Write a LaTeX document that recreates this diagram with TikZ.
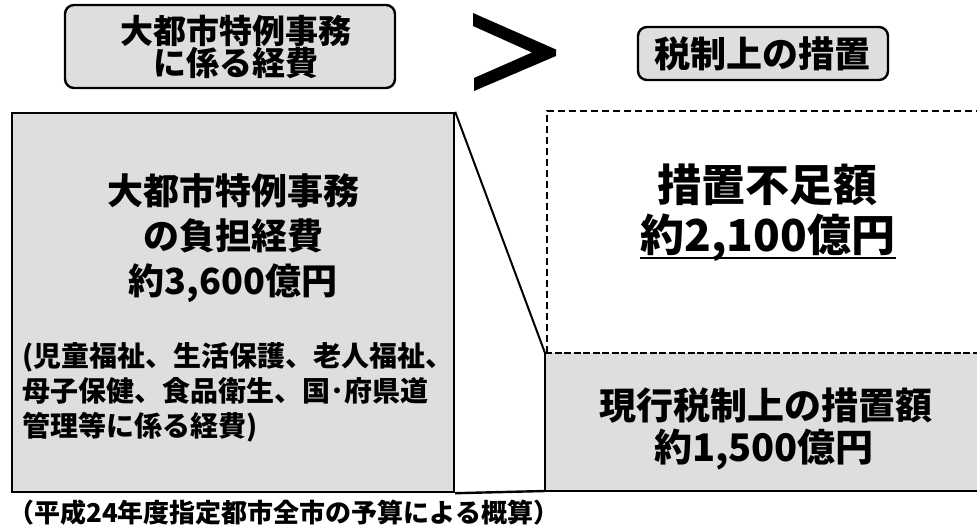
\documentclass[tikz,border=0pt]{standalone}
\usepackage{fontspec}
\setmainfont{Noto Sans CJK JP}
\definecolor{stipple}{RGB}{222,222,222}
\tikzset{
  roundbox/.style={draw=black, line width=2.4pt, fill=stipple, rounded corners=9pt, align=center, inner sep=0pt},
  plainbox/.style={draw=black, line width=2.4pt, fill=stipple, inner sep=0pt},
  txt/.style={font=\bfseries, align=center, inner sep=0pt, text=black},
  dashedge/.style={line width=2.2pt, dash pattern=on 7pt off 4pt},
}
\newcommand{\fs}[2]{\fontsize{#1}{#2}\selectfont}
\begin{document}
\begin{tikzpicture}[x=1pt, y=-1pt]
\path[use as bounding box] (0,0) rectangle (977,532);
\clip (0,0) rectangle (977,532);
\fill[white] (0,0) rectangle (977,532);

% top boxes
\node[roundbox, minimum width=330pt, minimum height=83pt] (cost) at (230,46.5) {};
\node[txt, font=\bfseries\fs{33}{30}] (costt) at (236,47) {大都市特例事務\\に係る経費};

\fill (473,13) -- (556,49.5) -- (556,56) -- (474,91) -- (474,78) -- (532,52.5) -- (473,26) -- cycle;

\node[roundbox, minimum width=250pt, minimum height=53pt] (tax) at (763,53.5) {};
\node[txt, font=\bfseries\fs{36}{36}] (taxt) at (762,54) {税制上の措置};

% left big box
\node[plainbox, minimum width=442pt, minimum height=379pt] (big) at (233,302.5) {};
\node[txt, font=\bfseries\fs{36}{45}] (bigt) at (233,238) {大都市特例事務\\の負担経費\\約3,600億円};
\node[txt, font=\bfseries\fs{28}{35}, align=left, anchor=west] (bigd) at (22,392) {(児童福祉、生活保護、老人福祉、\\母子保健、食品衛生、国･府県道\\管理等に係る経費)};

% right boxes
\coordinate (dtl) at (547,111);
\coordinate (dtr) at (990,111);
\coordinate (gtl) at (545,353);
\coordinate (gtr) at (990,353);
\coordinate (gbr) at (990,491);
\fill[stipple] (gtl) rectangle (gbr);
\draw[dashedge] (547,353) -- (dtl) -- (dtr);
\draw[line width=2.2pt, dash pattern=on 7pt off 2.5pt] (gtl) -- (gtr);
\draw[line width=2.4pt] (gtl) -- (gtl |- gbr) -- (gbr);

\node[txt, font=\bfseries\fs{44}{44}] (short) at (767,185) {措置不足額};
\node[txt, font=\bfseries\fs{44}{44}] (shortv) at (768,238) {約2,100億円};
\draw[line width=2.2pt] ([yshift=-6pt]shortv.base west) -- ([yshift=-6pt]shortv.base east);

\node[txt, font=\bfseries\fs{37}{37}] (cur) at (766,406) {現行税制上の措置額};
\node[txt, font=\bfseries\fs{38}{38}] (curv) at (764,450) {約1,500億円};

% connectors
\draw[line width=2pt] (big.north east) -- (gtl);
\draw[line width=2.4pt] (big.south east) -- (gtl |- gbr);

% footer
\node[txt, font=\bfseries\fs{26}{26}, anchor=west] (foot) at (8,513) {（平成24年度指定都市全市の予算による概算）};
\end{tikzpicture}
\end{document}
